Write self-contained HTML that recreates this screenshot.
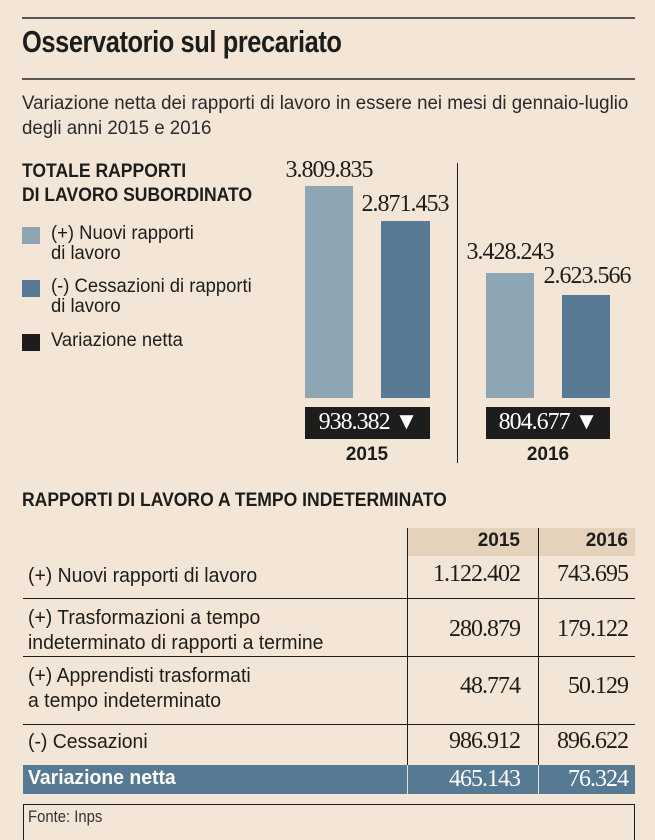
<!DOCTYPE html>
<html><head><meta charset="utf-8"><style>
body{margin:0;background:#f3e6d6;}
#c{position:relative;width:655px;height:840px;overflow:hidden;background:#f3e6d6;font-family:"Liberation Sans",sans-serif;color:#1d1d1b;}
.a{position:absolute;white-space:nowrap;}
.n{transform:scaleX(.82);transform-origin:left center;}
.n9{transform:scaleX(.9);transform-origin:left center;}
.n97{transform:scaleX(.97);transform-origin:left center;}
.nr{transform:scaleX(1);transform-origin:right center;}
.nc{transform:translateX(-50%);}
.s{font-family:"Liberation Serif",serif;letter-spacing:-1px;}
.r{position:absolute;background:#1d1d1b;}
</style></head><body><div id="c">
<div class="r" style="left:22px;top:17px;width:613px;height:2px;background:#555"></div>
<div class="a n" style="left:22px;top:24px;font-size:31px;font-weight:bold;letter-spacing:-0.5px">Osservatorio sul precariato</div>
<div class="r" style="left:22px;top:78px;width:613px;height:2px;background:#555"></div>
<div class="a" style="left:22px;top:91px;font-size:19.5px;line-height:25px;color:#2a2a2a;transform:scaleX(.96);transform-origin:left center">Variazione netta dei rapporti di lavoro in essere nei mesi di gennaio-luglio<br>degli anni 2015 e 2016</div>
<div class="a n9" style="left:22px;top:159px;font-size:19.5px;font-weight:bold;line-height:24px">TOTALE RAPPORTI<br>DI LAVORO SUBORDINATO</div>
<div class="r" style="left:22px;top:227px;width:18px;height:17px;background:#8ea5b3"></div>
<div class="r" style="left:22px;top:280px;width:18px;height:17px;background:#587a95"></div>
<div class="r" style="left:22px;top:334px;width:18px;height:17px"></div>
<div class="a n97" style="left:51px;top:224px;font-size:19px;line-height:20px">(+) Nuovi rapporti<br>di lavoro</div>
<div class="a n97" style="left:51px;top:277px;font-size:19px;line-height:20px">(-) Cessazioni di rapporti<br>di lavoro</div>
<div class="a n97" style="left:51px;top:331px;font-size:19px;line-height:20px">Variazione netta</div>
<div class="r" style="left:305px;top:186px;width:48px;height:212px;background:#8ea5b3"></div>
<div class="r" style="left:381px;top:221px;width:49px;height:177px;background:#587a95"></div>
<div class="r" style="left:486px;top:273px;width:48px;height:125px;background:#8ea5b3"></div>
<div class="r" style="left:562px;top:295px;width:48px;height:103px;background:#587a95"></div>
<div class="r" style="left:457px;top:163px;width:1px;height:300px"></div>
<div class="a s nc" style="left:329px;top:157px;font-size:24px">3.809.835</div>
<div class="a s nc" style="left:405px;top:191px;font-size:24px">2.871.453</div>
<div class="a s nc" style="left:510px;top:239px;font-size:24px">3.428.243</div>
<div class="a s nc" style="left:587px;top:263px;font-size:24px">2.623.566</div>
<div class="r" style="left:305px;top:407px;width:125px;height:32px"></div>
<div class="r" style="left:486px;top:407px;width:124px;height:32px"></div>
<div class="a s nc" style="left:368px;top:409px;font-size:24px;color:#fff">938.382 ▼</div>
<div class="a s nc" style="left:548px;top:409px;font-size:24px;color:#fff">804.677 ▼</div>
<div class="a nc" style="left:367px;top:444px;font-size:19px;font-weight:bold">2015</div>
<div class="a nc" style="left:548px;top:444px;font-size:19px;font-weight:bold">2016</div>
<div class="a n9" style="left:22px;top:489px;font-size:19.5px;font-weight:bold">RAPPORTI DI LAVORO A TEMPO INDETERMINATO</div>
<div class="r" style="left:408px;top:528px;width:227px;height:28px;background:#e4d2bd"></div>
<div class="r" style="left:407px;top:528px;width:1px;height:266px"></div>
<div class="r" style="left:538px;top:528px;width:1px;height:266px"></div>
<div class="r" style="left:23px;top:598px;width:612px;height:1px"></div>
<div class="r" style="left:23px;top:656px;width:612px;height:1px"></div>
<div class="r" style="left:23px;top:724px;width:612px;height:1px"></div>
<div class="r" style="left:23px;top:765px;width:612px;height:29px;background:#567994"></div>
<div class="r" style="left:407px;top:765px;width:1px;height:29px;background:#e6e0d8"></div>
<div class="r" style="left:538px;top:765px;width:1px;height:29px;background:#e6e0d8"></div>
<div class="a nr" style="right:135px;top:530px;font-size:19px;font-weight:bold">2015</div>
<div class="a nr" style="right:27px;top:530px;font-size:19px;font-weight:bold">2016</div>
<div class="a n97" style="left:28px;top:564px;font-size:20px;line-height:24px">(+) Nuovi rapporti di lavoro</div>
<div class="a n97" style="left:28px;top:606px;font-size:20px;line-height:25px">(+) Trasformazioni a tempo<br>indeterminato di rapporti a termine</div>
<div class="a n97" style="left:28px;top:664px;font-size:20px;line-height:25px">(+) Apprendisti trasformati<br>a tempo indeterminato</div>
<div class="a n97" style="left:28px;top:730px;font-size:20px;line-height:24px">(-) Cessazioni</div>
<div class="a n97" style="left:28px;top:767px;font-size:20px;font-weight:bold;color:#fff">Variazione netta</div>
<div class="a s nr" style="right:135px;top:561px;font-size:24px">1.122.402</div>
<div class="a s nr" style="right:27px;top:561px;font-size:24px">743.695</div>
<div class="a s nr" style="right:135px;top:616px;font-size:24px">280.879</div>
<div class="a s nr" style="right:27px;top:616px;font-size:24px">179.122</div>
<div class="a s nr" style="right:135px;top:673px;font-size:24px">48.774</div>
<div class="a s nr" style="right:27px;top:673px;font-size:24px">50.129</div>
<div class="a s nr" style="right:135px;top:728px;font-size:24px">986.912</div>
<div class="a s nr" style="right:27px;top:728px;font-size:24px">896.622</div>
<div class="a s nr" style="right:135px;top:766px;font-size:24px;color:#fff">465.143</div>
<div class="a s nr" style="right:27px;top:766px;font-size:24px;color:#fff">76.324</div>
<div class="r" style="left:23px;top:804px;width:612px;height:1px"></div>
<div class="r" style="left:23px;top:804px;width:1px;height:36px"></div>
<div class="r" style="left:634px;top:804px;width:1px;height:36px"></div>
<div class="a n9" style="left:28px;top:808px;font-size:16.5px;color:#333">Fonte: Inps</div>
</div></body></html>
